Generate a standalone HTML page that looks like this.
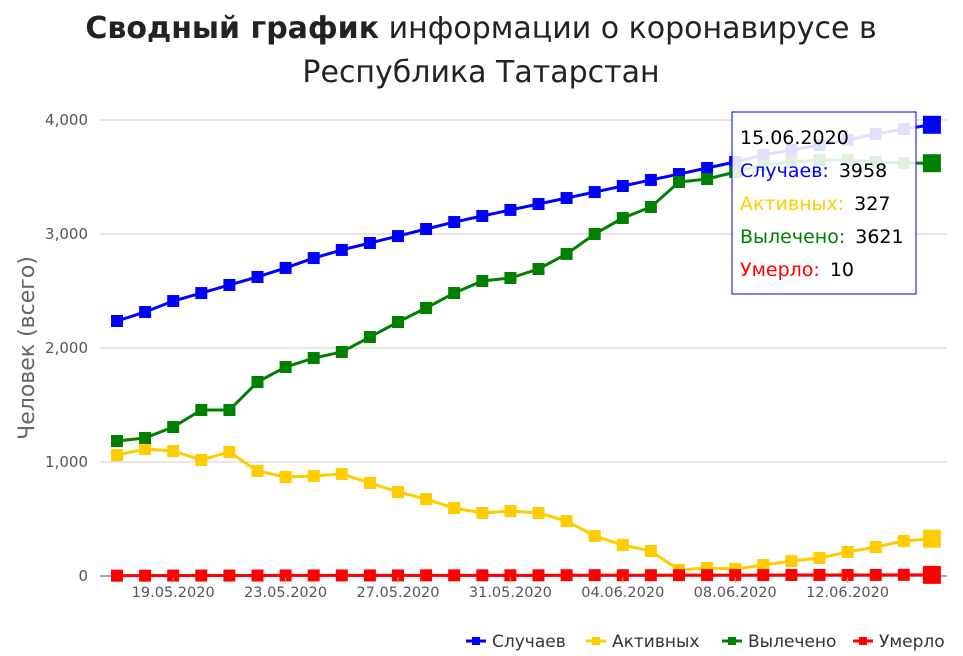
<!DOCTYPE html>
<html><head><meta charset="utf-8">
<style>
body{margin:0;background:#fff;font-family:"DejaVu Sans","Liberation Sans",sans-serif;}
svg{display:block}
</style></head>
<body>
<svg id="chart" width="963" height="656" xmlns="http://www.w3.org/2000/svg">
<text x="481" y="38" text-anchor="middle" font-size="30" fill="#222"><tspan font-weight="bold">Сводный график</tspan> информации о коронавирусе в</text>
<text x="481" y="82" text-anchor="middle" font-size="30" fill="#222">Республика Татарстан</text>
<text transform="translate(34,348) rotate(-90)" text-anchor="middle" font-size="22" fill="#666">Человек (всего)</text>
<g id="grid"></g><g id="series"></g><g id="xaxis"></g>
<g>
<rect x="732" y="112" width="184" height="182" fill="#fff" fill-opacity="0.88" stroke="#0000ff" stroke-width="1"/>
<text x="740" y="144" font-size="19" fill="#000">15.06.2020</text>
<text x="740" y="177" font-size="19" fill="#0000ff">Случаев:<tspan fill="#000" dx="10">3958</tspan></text>
<text x="740" y="210" font-size="19" fill="#ffcc00">Активных:<tspan fill="#000" dx="10">327</tspan></text>
<text x="740" y="243" font-size="19" fill="#008000">Вылечено:<tspan fill="#000" dx="10">3621</tspan></text>
<text x="740" y="276" font-size="19" fill="#ff0000">Умерло:<tspan fill="#000" dx="10">10</tspan></text>
</g>
<g id="legend"></g>
</svg>
<script>
const dates=["17.05.2020","18.05.2020","19.05.2020","20.05.2020","21.05.2020","22.05.2020","23.05.2020","24.05.2020","25.05.2020","26.05.2020","27.05.2020","28.05.2020","29.05.2020","30.05.2020","31.05.2020","01.06.2020","02.06.2020","03.06.2020","04.06.2020","05.06.2020","06.06.2020","07.06.2020","08.06.2020","09.06.2020","10.06.2020","11.06.2020","12.06.2020","13.06.2020","14.06.2020","15.06.2020"];
const cases=[2237,2316,2412,2482,2553,2623,2702,2789,2860,2921,2982,3044,3105,3158,3211,3263,3316,3368,3421,3474,3526,3579,3632,3693,3737,3781,3825,3877,3921,3958];
const active=[1061,1114,1096,1018,1088,921,868,877,895,816,737,675,596,553,570,553,482,351,272,219,53,70,61,96,132,158,211,254,307,327];
const recovered=[1184,1211,1307,1456,1456,1702,1833,1912,1965,2096,2228,2351,2482,2588,2614,2693,2825,3000,3140,3237,3456,3482,3544,3605,3632,3649,3649,3632,3623,3621];
const deaths=[3,3,4,4,4,4,5,5,5,5,5,6,6,6,6,6,7,7,7,7,8,8,8,8,9,9,9,9,10,10];
const yTicks=[0,1000,2000,3000,4000];
const yTickLabels=["0","1,000","2,000","3,000","4,000"];
const xTickIdx=[2,6,10,14,18,22,26];
const NS="http://www.w3.org/2000/svg";
const X=i=>117+i*28.1, Y=v=>576-v*0.114;
function mk(t,a,p){const e=document.createElementNS(NS,t);for(const k in a)e.setAttribute(k,a[k]);p.appendChild(e);return e;}
const grid=document.getElementById('grid');
yTicks.forEach((v,i)=>{
 const l=mk('line',{x1:100,x2:947,y1:Y(v),y2:Y(v),stroke:i?'#ccc':'#aaa','stroke-width':i?1:2},grid);
 
 
 const t=mk('text',{x:88,y:Y(v)+5,'text-anchor':'end','font-size':15,fill:'#555'},grid);
 t.textContent=yTickLabels[i];
 
 
});
const xa=document.getElementById('xaxis');
xTickIdx.forEach(i=>{
 const l=mk('line',{x1:X(i),x2:X(i),y1:577,y2:583,stroke:'#aaa'},xa);
 
 
 const t=mk('text',{x:X(i),y:597,'text-anchor':'middle','font-size':14.5,fill:'#555'},xa);
 t.textContent=dates[i];
 
 
});
const ser=[["cases",cases,"#0000ff"],["active",active,"#ffcc00"],["recovered",recovered,"#008000"],["deaths",deaths,"#ff0000"]];
const sg=document.getElementById('series');
ser.forEach(([n,d,c])=>{
 const g=mk('g',{},sg);
 
 
 const p=mk('polyline',{points:d.map((v,i)=>X(i)+','+Y(v)).join(' '),fill:'none',stroke:c,'stroke-width':3},g);
 
 
 d.forEach((v,i)=>{
  const s=i===d.length-1?18:12;
  const r=mk('rect',{x:X(i)-s/2,y:Y(v)-s/2,width:s,height:s,fill:c},g);
  
  
 });
});
const lg=document.getElementById('legend');
const names=["Случаев","Активных","Вылечено","Умерло"];
const lx=[466,586,722,853];
names.forEach((nm,i)=>{
 const g=mk('g',{},lg);
 
 
 mk('line',{x1:lx[i],x2:lx[i]+20,y1:641,y2:641,stroke:ser[i][2],'stroke-width':3},g);
 mk('rect',{x:lx[i]+6,y:637,width:8,height:8,fill:ser[i][2]},g);
 const t=mk('text',{x:lx[i]+26,y:647,'font-size':17,fill:'#333'},g);
 t.textContent=nm;
});
</script>
</body></html>
